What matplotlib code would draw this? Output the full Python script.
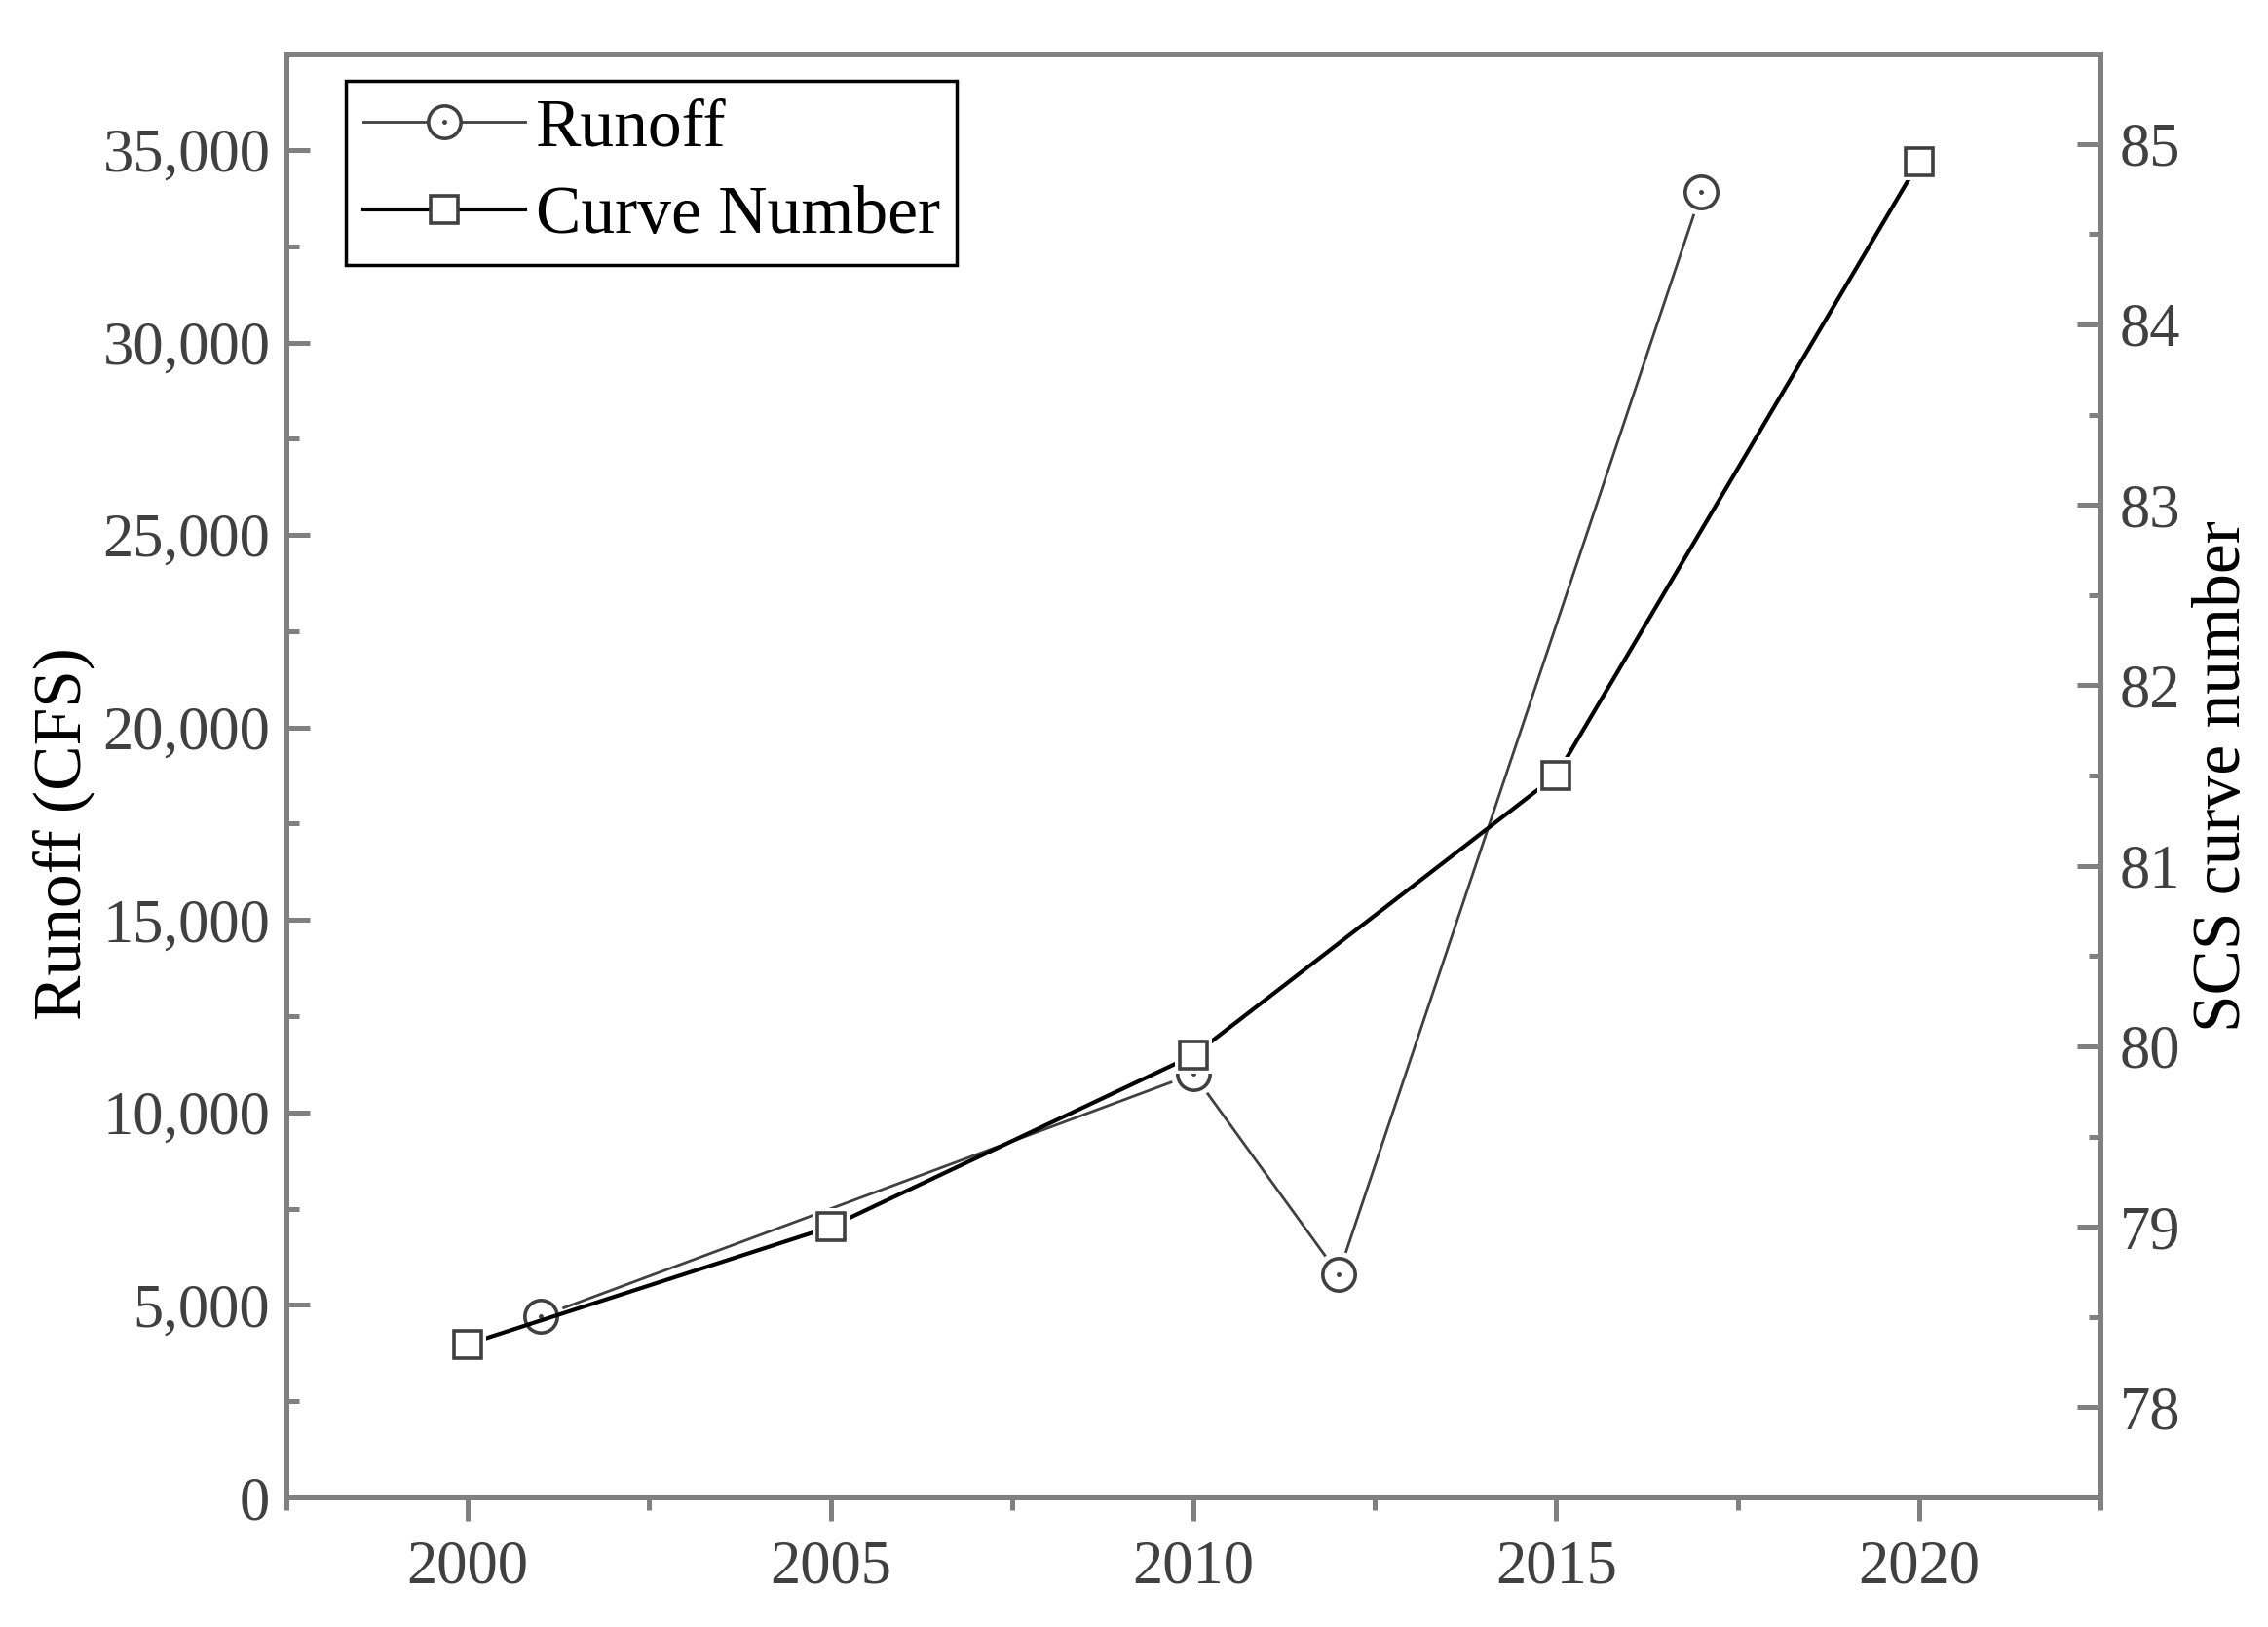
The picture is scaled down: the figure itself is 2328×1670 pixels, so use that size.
import matplotlib.pyplot as plt
from matplotlib.ticker import MultipleLocator, FuncFormatter

plt.rcParams['font.family'] = ['Liberation Serif', 'DejaVu Serif']

# data
runoff_years = [2001, 2010, 2012, 2017]
runoff_cfs = [4700, 11000, 5800, 33900]
cn_years = [2000, 2005, 2010, 2015, 2020]
curve_number = [78.35, 79.0, 79.95, 81.5, 84.9]

spine_col = '#808080'
text_col = '#404040'
mark_col = '#404040'

fig = plt.figure(figsize=(23.28, 16.70), dpi=100)
ax = fig.add_axes([0.1263, 0.0796, 0.7998, 0.8874])
ax2 = ax.twinx()

# runoff: thin grey line, open circle with centre dot
ax.plot(runoff_years, runoff_cfs, color=mark_col, lw=2.0, zorder=2)
ax.plot(runoff_years, runoff_cfs, ls='none', marker='o', ms=34, mfc='white',
        mec='white', mew=0, zorder=3)
ax.plot(runoff_years, runoff_cfs, ls='none', marker='o', ms=24, mfc='white',
        mec=mark_col, mew=2.6, zorder=4)
ax.plot(runoff_years, runoff_cfs, ls='none', marker='o', ms=2.5, mfc=mark_col,
        mec=mark_col, zorder=5)

# curve number: black line, open square
ax2.plot(cn_years, curve_number, color='black', lw=3.0, zorder=2)
ax2.plot(cn_years, curve_number, ls='none', marker='s', ms=28, mfc='white',
         mec='white', mew=0, zorder=3)
ax2.plot(cn_years, curve_number, ls='none', marker='s', ms=20, mfc='white',
         mec=mark_col, mew=2.6, zorder=4)

ax.set_xlim(1997.5, 2022.5)
ax.set_ylim(0, 37500)
ax2.set_ylim(77.5, 85.5)

ax.xaxis.set_major_locator(MultipleLocator(5))
ax.xaxis.set_minor_locator(MultipleLocator(2.5))
ax.yaxis.set_major_locator(MultipleLocator(5000))
ax.yaxis.set_minor_locator(MultipleLocator(2500))
ax.yaxis.set_major_formatter(FuncFormatter(lambda v, p: f'{int(v):,}'))
ax2.yaxis.set_major_locator(MultipleLocator(1))
ax2.yaxis.set_minor_locator(MultipleLocator(0.5))

for a in (ax, ax2):
    for s in a.spines.values():
        s.set_color(spine_col)
        s.set_linewidth(3.6)

ax.tick_params(axis='x', which='both', direction='out', color=spine_col,
               width=3.6, labelcolor=text_col, labelsize=45, pad=14)
ax.tick_params(axis='x', which='major', length=17)
ax.tick_params(axis='x', which='minor', length=9)
ax.tick_params(axis='y', which='both', direction='in', color=spine_col,
               width=3.6, labelcolor=text_col, labelsize=45, pad=12)
ax.tick_params(axis='y', which='major', length=17)
ax.tick_params(axis='y', which='minor', length=9)
ax2.tick_params(axis='y', which='both', direction='in', color=spine_col,
                width=3.6, labelcolor=text_col, labelsize=45, pad=14)
ax2.tick_params(axis='y', which='major', length=17)
ax2.tick_params(axis='y', which='minor', length=9)

ax.set_ylabel('Runoff (CFS)', fontsize=50, color='black')
ax.yaxis.set_label_coords(-0.106, 0.46)
ax2.set_ylabel('SCS curve number', fontsize=50, color='black', labelpad=9)

h1, = ax.plot([], [], color=mark_col, lw=2.0, marker='o', ms=24, mfc='white',
              mec=mark_col, mew=2.6)
h1dot, = ax.plot([], [], ls='none', marker='o', ms=2.5, mfc=mark_col,
                 mec=mark_col)
h2, = ax.plot([], [], color='black', lw=3.0, marker='s', ms=20, mfc='white',
              mec=mark_col, mew=2.6)
leg = ax2.legend([(h1, h1dot), h2], ['Runoff', 'Curve Number'],
                 loc='upper left', bbox_to_anchor=(0.033, 0.981),
                 borderaxespad=0, fontsize=50, fancybox=False, framealpha=1,
                 edgecolor='black', handlelength=2.4, handletextpad=0.15,
                 borderpad=0.25, labelspacing=0.38)
leg.get_frame().set_linewidth(2.5)

fig.savefig('out.png', dpi=100)
